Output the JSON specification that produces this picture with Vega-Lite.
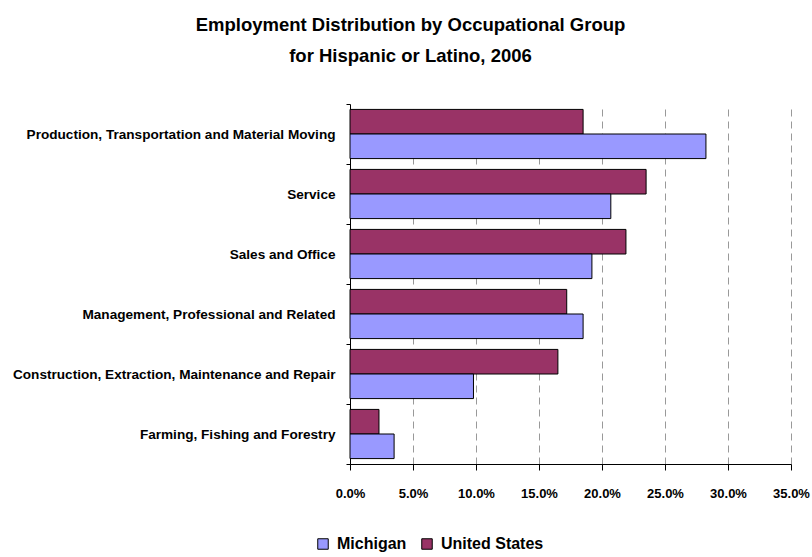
{
  "$schema": "https://vega.github.io/schema/vega-lite/v6.json",
  "autosize": "none",
  "width": 441,
  "height": 360,
  "padding": {"left": 350, "top": 104, "right": 21, "bottom": 93},
  "background": "white",
  "config": {
    "view": {"stroke": null},
    "font": "Liberation Sans"
  },
  "title": {
    "text": ["Employment Distribution by Occupational Group", "for Hispanic or Latino, 2006"],
    "fontSize": 18.5,
    "fontWeight": "bold",
    "lineHeight": 31,
    "anchor": "middle",
    "dx": -160,
    "offset": 32,
    "color": "black"
  },
  "data": {
    "values": [
      {"group": "Production, Transportation and Material Moving", "region": "United States", "share": 0.185},
      {"group": "Production, Transportation and Material Moving", "region": "Michigan", "share": 0.2825},
      {"group": "Service", "region": "United States", "share": 0.235},
      {"group": "Service", "region": "Michigan", "share": 0.207},
      {"group": "Sales and Office", "region": "United States", "share": 0.219},
      {"group": "Sales and Office", "region": "Michigan", "share": 0.192},
      {"group": "Management, Professional and Related", "region": "United States", "share": 0.172},
      {"group": "Management, Professional and Related", "region": "Michigan", "share": 0.185},
      {"group": "Construction, Extraction, Maintenance and Repair", "region": "United States", "share": 0.165},
      {"group": "Construction, Extraction, Maintenance and Repair", "region": "Michigan", "share": 0.098},
      {"group": "Farming, Fishing and Forestry", "region": "United States", "share": 0.023},
      {"group": "Farming, Fishing and Forestry", "region": "Michigan", "share": 0.035}
    ]
  },
  "mark": {"type": "bar", "stroke": "black", "strokeWidth": 1},
  "encoding": {
    "y": {
      "field": "group",
      "type": "nominal",
      "sort": null,
      "scale": {"paddingInner": 0, "paddingOuter": 0},
      "axis": {
        "title": null,
        "tickBand": "extent",
        "labelFontSize": 13.6,
        "labelFontWeight": "bold",
        "labelColor": "black",
        "labelPadding": 11,
        "labelLimit": 400,
        "tickSize": 4,
        "tickColor": "black",
        "domainColor": "black",
        "grid": false
      }
    },
    "yOffset": {
      "field": "region",
      "type": "nominal",
      "sort": ["United States", "Michigan"],
      "scale": {"paddingOuter": 0.22, "paddingInner": 0}
    },
    "x": {
      "field": "share",
      "type": "quantitative",
      "scale": {"domain": [0, 0.35], "nice": false},
      "axis": {
        "title": null,
        "values": [0, 0.05, 0.1, 0.15, 0.2, 0.25, 0.3, 0.35],
        "format": ".1%",
        "labelFontSize": 13,
        "labelFontWeight": "bold",
        "labelColor": "black",
        "labelPadding": 17,
        "labelOverlap": false,
        "labelFlush": false,
        "tickSize": 6,
        "tickColor": "black",
        "domainColor": "black",
        "grid": true,
        "gridColor": "#999999",
        "gridDash": [7, 5],
        "gridWidth": 1
      }
    },
    "color": {
      "field": "region",
      "type": "nominal",
      "scale": {"domain": ["Michigan", "United States"], "range": ["#9999FF", "#993366"]},
      "legend": {
        "title": null,
        "orient": "none",
        "direction": "horizontal",
        "legendX": -35,
        "legendY": 432,
        "symbolType": "square",
        "symbolSize": 110,
        "symbolStrokeColor": "black",
        "symbolStrokeWidth": 1,
        "symbolOpacity": 1,
        "labelFontSize": 16,
        "labelFontWeight": "bold",
        "labelColor": "black",
        "labelOffset": 6,
        "columnPadding": 12
      }
    }
  }
}
